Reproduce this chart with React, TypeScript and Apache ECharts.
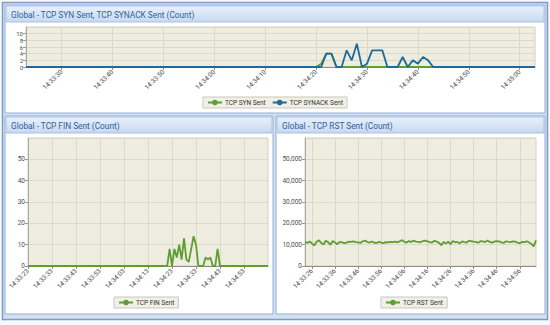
import React, { useEffect, useRef } from "react";
import * as echarts from "echarts";

const FONT = "Roboto, 'Noto Sans', sans-serif";

// 101 one-second samples, 14:33:23 .. 14:35:03
const START = { h: 14, m: 33, s: 23 };
const COUNT = 101;
const pad = (n: number) => (n < 10 ? "0" + n : "" + n);
const times: string[] = Array.from({ length: COUNT }, (_, i) => {
  const t = START.h * 3600 + START.m * 60 + START.s + i;
  return `${Math.floor(t / 3600)}:${pad(Math.floor((t % 3600) / 60))}:${pad(t % 60)}`;
});

const synSent = [
  0, 0, 0, 0, 0, 0, 0, 0, 0, 0,
  0, 0, 0, 0, 0, 0, 0, 0, 0, 0,
  0, 0, 0, 0, 0, 0, 0, 0, 0, 0,
  0, 0, 0, 0, 0, 0, 0, 0, 0, 0,
  0, 0, 0, 0, 0, 0, 0, 0, 0, 0,
  0, 0, 0, 0, 0, 0, 0, 0, 1, 4,
  4, 0, 0, 0, 0, 0, 0, 0, 0, 0,
  0, 0, 0, 0, 0, 0, 0, 0, 0, 0,
  0, 0, 0, 0, 0, 0, 0, 0, 0, 0,
  0, 0, 0, 0, 0, 0, 0, 0, 0, 0,
  0,
];

const synackSent = [
  0, 0, 0, 0, 0, 0, 0, 0, 0, 0,
  0, 0, 0, 0, 0, 0, 0, 0, 0, 0,
  0, 0, 0, 0, 0, 0, 0, 0, 0, 0,
  0, 0, 0, 0, 0, 0, 0, 0, 0, 0,
  0, 0, 0, 0, 0, 0, 0, 0, 0, 0,
  0, 0, 0, 0, 0, 0, 0, 0, 0, 4,
  4, 0, 0, 5, 2, 7, 0, 1, 5, 5,
  5, 0, 0, 0, 3, 0, 2, 1, 3, 2,
  0, 0, 0, 0, 0, 0, 0, 0, 0, 0,
  0, 0, 0, 0, 0, 0, 0, 0, 0, 0,
  0,
];

const finSent = [
  0, 0, 0, 0, 0, 0, 0, 0, 0, 0,
  0, 0, 0, 0, 0, 0, 0, 0, 0, 0,
  0, 0, 0, 0, 0, 0, 0, 0, 0, 0,
  0, 0, 0, 0, 0, 0, 0, 0, 0, 0,
  0, 0, 0, 0, 0, 0, 0, 0, 0, 0,
  0, 0, 0, 0, 0, 0, 0, 0, 0, 8,
  0, 8, 4, 10, 3, 13, 3, 2, 8, 14,
  10, 0, 0, 0, 4, 3, 4, 0, 0, 8,
  0, 0, 0, 0, 0, 0, 0, 0, 0, 0,
  0, 0, 0, 0, 0, 0, 0, 0, 0, 0,
  0,
];

const rstSent = [
  11200, 10800, 11500, 10600, 9600, 11400, 12000, 10900, 10100, 11800,
  11200, 9900, 11700, 11000, 10200, 11300, 11100, 10700, 11000, 11400,
  11300, 11500, 11200, 11100, 10800, 11600, 11900, 11200, 11000, 11500,
  10900, 10800, 11300, 11000, 10700, 11200, 11100, 11300, 11200, 11400,
  11100, 11600, 12100, 11300, 11000, 11700, 11200, 11900, 11400, 11300,
  11100, 11700, 11900, 11500, 11200, 11000, 11800, 11400, 10900, 9800,
  11200, 10500, 11400, 10200, 11700, 11100, 11300, 10600, 11500, 11200,
  11000, 11900, 11600, 11400, 11300, 10900, 11600, 11500, 11200, 12000,
  11300, 11000, 11400, 11700, 11500, 11100, 10800, 11600, 11300, 11200,
  11500, 11400, 11000, 10700, 11300, 11200, 11600, 11000, 10400, 9200,
  12000, 9700,
].slice(0, COUNT);

const titles = [
  "Global - TCP SYN Sent, TCP SYNACK Sent (Count)",
  "Global - TCP FIN Sent (Count)",
  "Global - TCP RST Sent (Count)",
];
const seriesNames = ["TCP SYN Sent", "TCP SYNACK Sent", "TCP FIN Sent", "TCP RST Sent"];
// index of the first labelled second in each chart
const labelOffsets = [7, 0, 3];

const GREEN = "#5f9e32";
const BLUE = "#1f6a98";
const GRID_LINE = "#dad9cc";
const AXIS = "#8e8e82";

const axisFont = { fontFamily: FONT, fontSize: 6.5, color: "#4d4d4d" };

function makeXAxis(gridIndex: number, offset: number) {
  const show = (i: number) => i >= offset && i < COUNT - 1 && (i - offset) % 10 === 0;
  return {
    type: "category",
    gridIndex,
    data: times,
    boundaryGap: false,
    axisLine: { lineStyle: { color: AXIS, width: 1 } },
    axisTick: { interval: (i: number) => show(i), length: 3, lineStyle: { color: AXIS } },
    axisLabel: { interval: (i: number) => show(i), rotate: 45, margin: 4, ...axisFont },
    splitLine: { show: true, interval: (i: number) => show(i), lineStyle: { color: GRID_LINE, width: 1 } },
  };
}

function makeYAxis(gridIndex: number, max: number, interval: number, fmt?: (v: number) => string, small = false) {
  return {
    type: "value",
    gridIndex,
    min: 0,
    max,
    interval,
    axisLine: { show: true, lineStyle: { color: "#a9a9a0" } },
    axisTick: { show: true, length: 3, lineStyle: { color: "#9a9a90" } },
    axisLabel: {
      showMaxLabel: false,
      showMinLabel: true,
      hideOverlap: false,
      margin: 3,
      ...axisFont,
      ...(small ? { fontSize: 6, lineHeight: 5, height: 5 } : {}),
      formatter: fmt,
    },
    splitLine: { show: true, lineStyle: { color: GRID_LINE, width: 1 } },
  };
}

const headerGradient = () =>
  new echarts.graphic.LinearGradient(0, 0, 0, 1, [
    { offset: 0, color: "#eaf1fb" },
    { offset: 1, color: "#c7d9f0" },
  ]);

function panel(x: number, y: number, w: number, h: number, title: string) {
  return [
    { type: "rect", z: -5, shape: { x, y, width: w, height: h }, style: { fill: "#ffffff", stroke: "#93afd6", lineWidth: 1 } },
    { type: "rect", z: -4, shape: { x: x + 1, y: y + 1, width: w - 2, height: 16 }, style: { fill: headerGradient(), stroke: "#a9c1e2", lineWidth: 1 } },
    {
      type: "text",
      z: -3,
      x: x + 6,
      y: y + 9.5,
      style: { text: title, fill: "#30609e", font: `8.3px ${FONT}`, verticalAlign: "middle" },
    },
  ];
}

const legendBase = {
  orient: "horizontal",
  itemWidth: 14,
  itemHeight: 7,
  itemGap: 6,
  backgroundColor: "#f1f0e7",
  borderColor: "#c9c8bb",
  borderWidth: 1,
  padding: [2, 4, 2, 4],
  borderRadius: 0,
  textStyle: { fontFamily: FONT, fontSize: 6.5, color: "#333333", padding: [0, 0, 0, -2] },
};

function lineSeries(name: string, data: number[], color: string, xi: number, z = 2) {
  return {
    type: "line",
    name,
    data,
    xAxisIndex: xi,
    yAxisIndex: xi,
    symbol: "circle",
    symbolSize: 7,
    showSymbol: false,
    z,
    lineStyle: { color, width: 1.8 },
    itemStyle: { color },
  };
}

export default function App() {
  const ref = useRef<HTMLDivElement>(null);
  useEffect(() => {
    document.body.style.margin = "0";
    if (!ref.current) return;
    const chart = echarts.init(ref.current, undefined, { renderer: "svg" });
    const gridStyle = { show: true, backgroundColor: "#eeeddf", borderColor: "#d2d1c4", borderWidth: 1, containLabel: false };
    chart.setOption({
      animation: false,
      textStyle: { fontFamily: FONT },
      graphic: {
        elements: [
          { type: "rect", z: -10, shape: { x: 0, y: 0, width: 550, height: 325 }, style: { fill: "#f6f8fc" } },
          { type: "rect", z: -9, shape: { x: 2.5, y: 2.5, width: 545, height: 317 }, style: { fill: "#d5e1f1", stroke: "#7d9bc6", lineWidth: 1.5 } },
          ...panel(5, 5, 540, 108, titles[0]),
          ...panel(5, 116, 268, 198, titles[1]),
          ...panel(276, 116, 269, 198, titles[2]),
        ],
      },
      grid: [
        { left: 26, top: 27, width: 509, height: 40, ...gridStyle },
        { left: 28, top: 138, width: 240, height: 128, ...gridStyle },
        { left: 305, top: 138, width: 231, height: 128, ...gridStyle },
      ],
      xAxis: [makeXAxis(0, labelOffsets[0]), makeXAxis(1, labelOffsets[1]), makeXAxis(2, labelOffsets[2])],
      yAxis: [
        makeYAxis(0, 12, 2, undefined, true),
        makeYAxis(1, 60, 10),
        makeYAxis(2, 60000, 10000, (v: number) => v.toLocaleString("en-US")),
      ],
      legend: [
        { ...legendBase, data: [seriesNames[0], seriesNames[1]], left: "center", top: 97 },
        { ...legendBase, data: [seriesNames[2]], left: 114, top: 297 },
        { ...legendBase, data: [seriesNames[3]], left: 381, top: 297 },
      ],
      series: [
        lineSeries(seriesNames[0], synSent, GREEN, 0, 2),
        lineSeries(seriesNames[1], synackSent, BLUE, 0, 3),
        lineSeries(seriesNames[2], finSent, GREEN, 1),
        lineSeries(seriesNames[3], rstSent, GREEN, 2),
      ],
    });
    return () => chart.dispose();
  }, []);
  return <div ref={ref} style={{ width: 550, height: 325 }} />;
}
